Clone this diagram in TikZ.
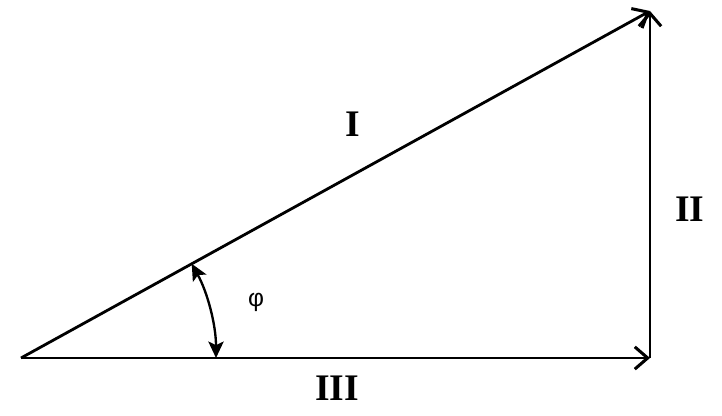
\documentclass[tikz,border=0pt]{standalone}
\usepackage{fontspec}
\setmainfont{Liberation Serif}
\newfontfamily\phifont{Liberation Sans}
\usetikzlibrary{arrows.meta,calc}
\tikzstyle{vec} = [draw,line width=2.4pt,-{Straight Barb[length=11pt,width=19pt,line width=2.6pt]}]
\tikzstyle{lbl} = [font=\fontsize{32}{36}\selectfont\bfseries,inner sep=0pt]
\tikzstyle{anglearc} = [draw,line width=2pt,{Stealth[length=14pt,width=13pt,inset=3pt]}-{Stealth[length=14pt,width=13pt,inset=3pt]}]

\begin{document}
\begin{tikzpicture}[x=0.03cm,y=0.03cm]
			\useasboundingbox (0,0) rectangle (722,415);
			
			\coordinate (O) at (21,57);
			\coordinate (A) at (650,57);
			\coordinate (B) at (650,404);
			
			\node[lbl]	(L1) at (353,291) {I};
			\node[lbl]	(L2) at (690,206) {II};
			\node[lbl]	(L3) at (337,27) {III};
			\node[font=\phifont\fontsize{21}{23}\selectfont,inner sep=0pt] (phi) at (256,113) {φ};
			
			\path[vec] (O) -- (A);
			\path[vec] (A) -- (B);
			\path[vec] (O) -- (B);
			
			\path[anglearc] ($(O)+(0:195)$) arc[start angle=0,end angle=28.9,radius=195];
			
			\end{tikzpicture}
\end{document}
